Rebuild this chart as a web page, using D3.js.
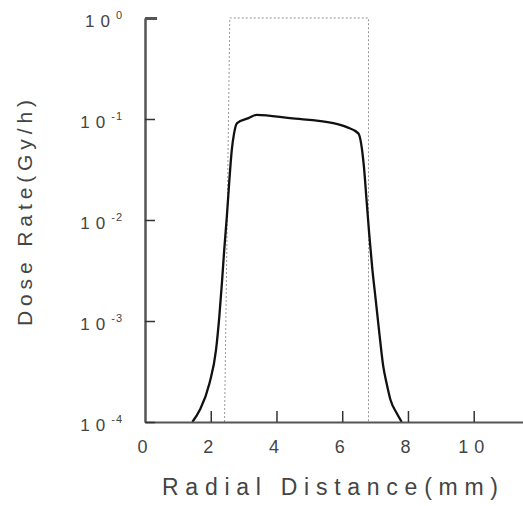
<!DOCTYPE html>
<html>
<head>
<meta charset="utf-8">
<script src="https://cdn.jsdelivr.net/npm/d3@7"></script>
<style>
body { margin: 0; background: #fff; }
svg { display: block; }
</style>
</head>
<body>
<svg id="view" width="523" height="506"></svg>
<script>
// DATA
var distance = [1.44, 1.67, 1.96, 2.16, 2.26, 2.34, 2.41, 2.49, 2.56, 2.64, 2.71, 2.80,
                3.15, 3.4, 4.41, 5.73, 6.14,
                6.49, 6.66, 6.74, 6.82, 6.91, 7.02, 7.13, 7.25, 7.35, 7.47, 7.66, 7.81];
var doseRate = [1e-4, 1.32e-4, 2.41e-4, 5.16e-4, 1.10e-3, 2.37e-3, 5.05e-3, 1.08e-2, 2.31e-2, 4.93e-2, 7.21e-2, 9.12e-2,
                0.102, 0.11, 0.102, 0.091, 0.083,
                7.21e-2, 3.37e-2, 1.58e-2, 7.38e-3, 3.44e-3, 1.61e-3, 7.55e-4, 3.53e-4, 2.42e-4, 1.65e-4, 1.22e-4, 1e-4];

// source outline (dotted box)
var sourceX = [2.42, 2.58, 6.8, 6.8];
var sourceY = [1e-4, 1, 1, 1e-4];

var xTicks = [0, 2, 4, 6, 8, 10];
var yTicks = [1e-4, 1e-3, 1e-2, 1e-1, 1];
var yExponents = ["-4", "-3", "-2", "-1", "0"];

// CONSTANTS
var AXIS_COLOR = "#555";
var TEXT_COLOR = "#444";
var FONT = "'Liberation Sans', Arial, sans-serif";

function main() {
    var svg = d3.select("#view");

    var x = d3.scaleLinear().domain([0, 11.5]).range([145, 523]);
    var y = d3.scaleLog().domain([1e-4, 1]).range([422, 18]);

    // dotted source outline
    var box = d3.line()
        .x(function(d, i) { return x(sourceX[i]); })
        .y(function(d, i) { return y(sourceY[i]); });
    svg.append("path")
        .attr("d", box(sourceX))
        .attr("fill", "none")
        .attr("stroke", "#999")
        .attr("stroke-width", 1)
        .attr("stroke-dasharray", "2,2")
        ;

    // dose curve
    var line = d3.line()
        .x(function(d, i) { return x(distance[i]); })
        .y(function(d, i) { return y(doseRate[i]); })
        .curve(d3.curveMonotoneX);
    svg.append("path")
        .attr("d", line(distance))
        .attr("fill", "none")
        .attr("stroke", "#111")
        .attr("stroke-width", 2.3)
        ;

    // x axis
    var xAxis = svg.append("g")
        .attr("transform", "translate(0," + y(1e-4) + ")")
        .call(d3.axisBottom(x).tickValues(xTicks).tickSize(-11).tickSizeOuter(0).tickPadding(18).tickFormat(d3.format("d")));
    xAxis.select(".domain").attr("stroke", AXIS_COLOR).attr("stroke-width", 2);
    xAxis.selectAll(".tick line").attr("stroke", "#333").attr("stroke-width", 1.5)
        .filter(function(d) { return d === 0; }).remove();
    xAxis.selectAll(".tick text")
        .attr("fill", TEXT_COLOR)
        .attr("font-family", FONT)
        .attr("font-size", 18)
        .attr("letter-spacing", 6)
        ;

    // y axis
    var yAxis = svg.append("g")
        .attr("transform", "translate(" + x(0) + ",0)")
        .call(d3.axisLeft(y).tickValues(yTicks).tickSize(-10).tickSizeOuter(0).tickPadding(22).tickFormat(""));
    yAxis.select(".domain").attr("stroke", AXIS_COLOR).attr("stroke-width", 2.5);
    yAxis.selectAll(".tick line").attr("stroke", "#333").attr("stroke-width", 1.5);
    yAxis.selectAll(".tick line").filter(function(d) { return d === 1; })
        .attr("x2", 12).attr("stroke-width", 3).attr("stroke", AXIS_COLOR);
    yAxis.selectAll(".tick text").each(function(d, i) {
        var t = d3.select(this)
            .attr("fill", TEXT_COLOR)
            .attr("font-family", FONT)
            .attr("font-size", 17)
            .attr("dy", "0.5em")
            .attr("letter-spacing", 6)
            ;
        t.append("tspan").text("10");
        t.append("tspan")
            .attr("font-size", 11)
            .attr("letter-spacing", 1)
            .attr("dy", "-0.7em")
            .text(yExponents[i]);
    });
    yAxis.selectAll(".tick text").attr("x", -22);

    // axis titles
    svg.append("text")
        .attr("x", 162)
        .attr("y", 495)
        .attr("fill", TEXT_COLOR)
        .attr("font-family", FONT)
        .attr("font-size", 23)
        .attr("textLength", 336)
        .attr("lengthAdjust", "spacing")
        .text("Radial Distance(mm)")
        ;

    svg.append("text")
        .attr("transform", "translate(32,326) rotate(-90)")
        .attr("fill", TEXT_COLOR)
        .attr("font-family", FONT)
        .attr("font-size", 21)
        .attr("textLength", 226)
        .attr("lengthAdjust", "spacing")
        .text("Dose Rate(Gy/h)")
        ;
}

main();
</script>
</body>
</html>
